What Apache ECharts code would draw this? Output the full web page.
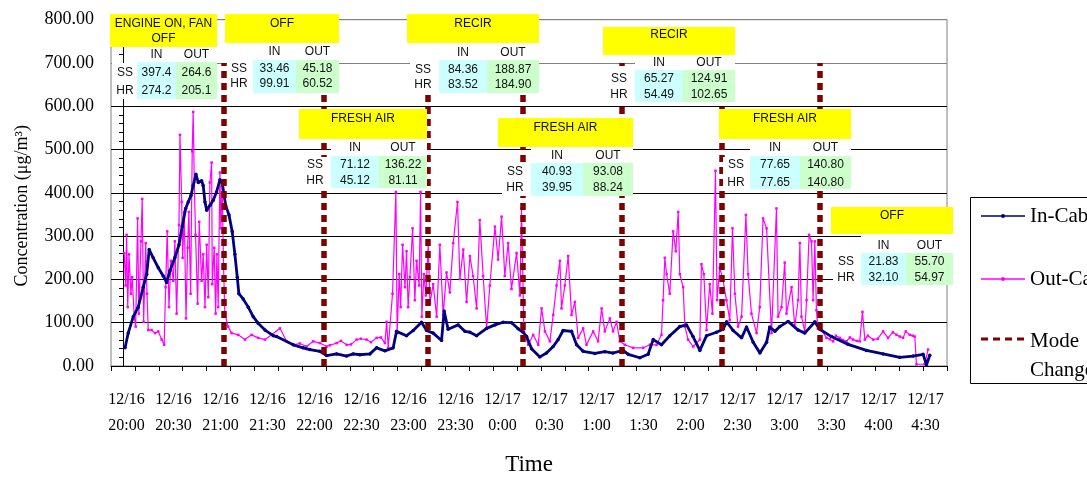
<!DOCTYPE html>
<html><head><meta charset="utf-8">
<script src="https://cdn.jsdelivr.net/npm/echarts/dist/echarts.min.js"></script>
<style>html,body{margin:0;padding:0;background:#fff}#c{width:1087px;height:481px}</style>
</head><body><div id="c"></div>
<script>
// ---------------- DATA ----------------
// time axis: minutes after 12/16 20:00
const timeLabels = ['12/16\n20:00','12/16\n20:30','12/16\n21:00','12/16\n21:30','12/16\n22:00','12/16\n22:30','12/16\n23:00','12/16\n23:30','12/17\n0:00','12/17\n0:30','12/17\n1:00','12/17\n1:30','12/17\n2:00','12/17\n2:30','12/17\n3:00','12/17\n3:30','12/17\n4:00','12/17\n4:30'];
const yTickLabels = ['0.00','100.00','200.00','300.00','400.00','500.00','600.00','700.00','800.00'];
const modeChangeTimes = [63.0, 125.8, 191.7, 251.3, 313.5, 375.9, 437.6];
const modeNames = [['ENGINE ON, FAN','OFF'],['OFF'],['FRESH AIR'],['RECIR'],['FRESH AIR'],['RECIR'],['FRESH AIR'],['OFF']];
const ssIn  = ['397.4','33.46','71.12','84.36','40.93','65.27','77.65','21.83'];
const ssOut = ['264.6','45.18','136.22','188.87','93.08','124.91','140.80','55.70'];
const hrIn  = ['274.2','99.91','45.12','83.52','39.95','54.49','77.65','32.10'];
const hrOut = ['205.1','60.52','81.11','184.90','88.24','102.65','140.80','54.97'];

const inCabin = [[1.3,42],[3.3,76],[6.5,114],[9.6,136],[12.7,182],[14.9,212],[16.5,269],[19.0,250],[22.2,227],[25.3,208],[27.4,193],[29.5,220],[32.6,250],[35.2,280],[37.2,322],[39.4,364],[41.0,379],[42.7,394],[44.1,417],[45.8,443],[47.3,424],[49.4,428],[50.4,417],[51.5,379],[52.6,360],[54.6,371],[56.7,383],[58.8,402],[60.9,430],[62.3,424],[64.5,371],[66.6,349],[68.6,311],[70.3,258],[71.8,205],[72.8,167],[75.5,155],[78.7,136],[81.8,114],[84.9,99],[89.2,83],[94.4,70],[96.5,68],[106.9,49],[113.2,42],[117.4,38],[123.7,34],[127.9,24],[134.2,28],[140.5,23],[144.6,28],[148.8,26],[155.1,28],[159.3,42],[164.5,35],[169.7,42],[171.8,80],[178.1,70],[182.3,82],[187.5,101],[190.7,82],[194.8,76],[200.1,59],[201.7,127],[204.2,85],[210.5,95],[214.7,80],[217.9,78],[222.1,70],[228.4,87],[233.6,95],[238.8,101],[244.1,100],[248.2,86],[251.3,78],[253.5,68],[256.6,40],[261.8,21],[266.0,30],[270.2,45],[273.3,61],[276.4,82],[281.7,80],[284.9,49],[289.0,34],[296.4,29],[302.6,33],[307.8,30],[314.1,36],[317.3,27],[324.6,19],[329.8,27],[333.0,61],[338.2,49],[343.4,70],[349.7,91],[353.9,95],[358.0,68],[362.3,36],[366.5,70],[372.7,78],[376.9,85],[379.1,102],[383.2,82],[388.5,65],[391.6,90],[395.8,55],[400.0,30],[404.2,55],[406.2,90],[409.4,80],[412.5,91],[417.7,103],[424.0,83],[428.2,76],[434.5,102],[437.6,85],[444.9,68],[455.4,50],[466.9,36],[477.4,28],[487.8,20],[496.2,23],[502.5,27],[504.6,3],[506.7,25]];

const outCabin = [[0.8,261],[1.7,186],[2.3,303],[3.0,136],[3.8,258],[5.0,167],[5.8,205],[7.1,114],[8.0,91],[9.2,341],[10.0,121],[11.3,288],[12.1,386],[13.0,102],[14.3,284],[15.1,167],[15.9,83],[18.0,83],[20.1,76],[22.2,80],[24.3,61],[25.9,49],[26.8,182],[27.8,311],[28.9,136],[30.1,243],[31.6,197],[32.6,288],[33.7,121],[35.2,326],[35.8,534],[36.9,379],[37.5,250],[38.5,356],[39.6,110],[40.6,273],[41.4,356],[42.5,167],[43.5,496],[44.1,587],[44.8,424],[45.6,303],[46.9,144],[47.9,333],[49.4,197],[50.4,258],[51.5,136],[52.6,280],[53.6,159],[54.6,424],[55.7,470],[56.1,189],[57.3,273],[58.2,121],[59.0,258],[59.8,136],[60.9,447],[61.5,318],[62.3,417],[63.2,227],[64.0,121],[66.1,91],[68.2,76],[72.4,72],[76.6,61],[80.8,72],[84.9,65],[89.2,61],[93.4,72],[98.6,87],[102.8,57],[106.9,49],[111.1,52],[115.3,45],[119.5,57],[123.7,53],[127.9,45],[130.0,48],[134.2,53],[136.9,58],[140.5,49],[143.2,50],[146.7,61],[149.4,63],[153.0,61],[155.7,55],[159.3,65],[162.0,66],[164.5,53],[165.6,102],[166.6,42],[169.3,167],[171.4,402],[172.2,76],[173.5,212],[174.4,136],[175.6,280],[177.1,182],[178.1,265],[179.1,136],[180.2,205],[181.9,318],[183.3,152],[184.4,243],[186.0,186],[186.9,402],[187.7,114],[189.0,212],[190.2,163],[191.7,280],[192.8,144],[194.8,189],[197.0,114],[199.0,280],[201.1,118],[203.2,216],[205.3,170],[207.4,284],[210.1,379],[211.6,201],[213.7,269],[215.8,148],[217.9,254],[219.9,208],[222.1,133],[224.1,337],[226.2,208],[228.4,87],[230.4,186],[233.6,322],[235.6,246],[237.8,345],[239.8,208],[241.9,284],[244.0,178],[247.2,261],[249.3,163],[250.3,364],[251.8,80],[254.5,49],[257.6,72],[260.8,49],[262.9,133],[265.0,80],[268.1,57],[270.2,118],[272.3,186],[274.4,243],[275.4,133],[277.5,186],[279.6,254],[281.7,118],[283.8,148],[285.9,65],[289.0,87],[291.1,49],[295.3,80],[298.4,57],[300.6,133],[302.6,80],[305.8,110],[307.8,80],[310.0,102],[312.0,57],[315.2,49],[320.4,42],[326.7,42],[330.9,49],[335.1,49],[338.2,72],[339.2,152],[340.3,250],[341.4,212],[343.4,167],[345.5,311],[347.2,265],[348.7,356],[349.7,212],[351.8,182],[352.9,91],[354.9,61],[358.1,45],[362.3,61],[363.3,235],[364.8,212],[366.5,83],[368.5,189],[370.2,121],[372.1,451],[373.1,152],[374.8,227],[376.9,197],[379.0,152],[381.1,106],[382.8,318],[384.3,167],[386.3,91],[388.5,114],[391.2,349],[392.6,212],[394.7,121],[397.9,76],[399.9,136],[402.0,341],[404.2,318],[407.3,76],[410.4,364],[411.4,114],[413.6,136],[415.6,239],[416.7,121],[419.9,182],[421.9,91],[424.0,152],[425.1,284],[426.1,114],[428.2,80],[429.3,152],[430.9,303],[432.4,288],[433.4,152],[434.5,288],[435.5,129],[436.4,87],[438.7,83],[441.8,65],[443.9,62],[446.0,57],[447.7,70],[450.2,65],[452.1,60],[454.4,57],[456.5,66],[458.5,61],[460.8,58],[462.7,57],[464.4,125],[465.9,61],[467.8,70],[471.1,61],[474.0,63],[477.4,80],[480.5,65],[483.5,78],[485.8,72],[487.8,68],[489.9,65],[491.6,80],[494.1,72],[496.0,70],[497.3,68],[498.3,4],[503.5,4],[505.6,38]];

// ---------------- LAYOUT (annotation tables, pixels) ----------------
const tableLayout = [
  {box:[110,217,14,47], titleY:[24,39], lx:125, cx:[137,176,217], cy:[62,99], hy:55, ry:[73,91]},
  {box:[225,339,14,43], titleY:[24], lx:239, cx:[253,296,339], cy:[60,93], hy:52, ry:[69,84]},
  {box:[299,427,109,139], titleY:[118.5], lx:315, cx:[331,379,427], cy:[156,188], hy:148, ry:[165,181]},
  {box:[407,539,14,43], titleY:[23.5], lx:423, cx:[439,487,539], cy:[60,93], hy:53, ry:[69.5,85]},
  {box:[498,633,118,147], titleY:[127.5], lx:515, cx:[531,583,633], cy:[163,196], hy:156, ry:[171.5,188]},
  {box:[603,735,27,55], titleY:[35], lx:619, cx:[635,683,735], cy:[70,102], hy:63, ry:[79,95]},
  {box:[719,851,109,139], titleY:[118.5], lx:736, cx:[750,800,851], cy:[156,189], hy:148, ry:[164.5,182.5]},
  {box:[831,953,207,234], titleY:[216], lx:846, cx:[861,906,953], cy:[253,285], hy:246, ry:[261.5,278]}
];

const SANS = '12px "Liberation Sans", Arial, sans-serif';
const SERIF = '"Liberation Serif", "Times New Roman", serif';
const graphics = [];
function txt(x, y, s, font, align) {
  graphics.push({type:'text', x:x, y:y, z:100, silent:true,
    style:{text:s, font:font || SANS, fill:'#111', align:align || 'center', verticalAlign:'middle'}});
}
function rect(x0, y0, x1, y1, fill) {
  graphics.push({type:'rect', z:99, silent:true, shape:{x:x0, y:y0, width:x1-x0, height:y1-y0}, style:{fill:fill}});
}
tableLayout.forEach((L, i) => {
  const [bx0, bx1, by0, by1] = L.box;
  const [c0, c1, c2] = L.cx;
  rect(c0, by1, c2, L.cy[0], '#ffffff');
  rect(Math.max(bx0 + 2, L.lx - 13), L.cy[0] + 1, c0, L.cy[1], '#ffffff');
  rect(bx0, by0, bx1, by1, '#ffff00');
  rect(c0, L.cy[0], c1, L.cy[1], '#ccffff');
  rect(c1, L.cy[0], c2, L.cy[1], '#ccffcc');
  modeNames[i].forEach((line, k) => txt((bx0 + bx1) / 2, L.titleY[k], line));
  txt((c0 + c1) / 2, L.hy, 'IN');
  txt((c1 + c2) / 2, L.hy, 'OUT');
  txt(L.lx, L.ry[0], 'SS');
  txt(L.lx, L.ry[1], 'HR');
  txt((c0 + c1) / 2, L.ry[0], ssIn[i]);
  txt((c1 + c2) / 2, L.ry[0], ssOut[i]);
  txt((c0 + c1) / 2, L.ry[1], hrIn[i]);
  txt((c1 + c2) / 2, L.ry[1], hrOut[i]);
});

// legend box (graphic, clipped at the canvas edge like the original)
graphics.push({type:'rect', z:100, silent:true, shape:{x:970.5, y:197.5, width:160, height:186}, style:{fill:'#fff', stroke:'#000', lineWidth:1}});
graphics.push({type:'line', z:101, silent:true, shape:{x1:981, y1:216, x2:1025, y2:216}, style:{stroke:'#000080', lineWidth:1.5}});
graphics.push({type:'circle', z:102, silent:true, shape:{cx:1003, cy:216, r:2}, style:{fill:'#000080'}});
graphics.push({type:'line', z:101, silent:true, shape:{x1:981, y1:279, x2:1025, y2:279}, style:{stroke:'#ff00ff', lineWidth:1.5}});
graphics.push({type:'circle', z:102, silent:true, shape:{cx:1003, cy:279, r:2}, style:{fill:'#ff00ff'}});
graphics.push({type:'line', z:101, silent:true, shape:{x1:981, y1:339, x2:1025, y2:339}, style:{stroke:'#800000', lineWidth:3, lineDash:[7,5]}});
const LFONT = '21px ' + SERIF;
[['In-Cabin',216],['Out-Cabin',279],['Mode',341],['Change',370]].forEach(([s,y]) => {
  graphics.push({type:'text', x:1030, y:y, z:102, silent:true, style:{text:s, font:LFONT, fill:'#000', align:'left', verticalAlign:'middle'}});
});

// 35 blank categories: tick marks every 15 min across the plot
const tickCats = Array.from({length:35}, () => '');
const splitColors = yTickLabels.map((_, i) => i >= 7 ? '#808080' : '#000000');
const PLOT = {top:19.7, height:352};

const chart = echarts.init(document.getElementById('c'), null, {renderer:'canvas'});
chart.setOption({
  animation:false,
  backgroundColor:'#ffffff',
  grid:[
    {left:111, top:PLOT.top, width:836, height:PLOT.height, show:true, borderColor:'#808080', borderWidth:1, backgroundColor:'transparent'},
    {left:126.5, top:PLOT.top, width:799, height:PLOT.height, show:false}
  ],
  xAxis:[
    {gridIndex:0, type:'category', data:tickCats, boundaryGap:true, position:'bottom',
     axisLine:{lineStyle:{color:'#000', width:1}},
     axisTick:{show:true, interval:0, length:5, lineStyle:{color:'#000'}},
     axisLabel:{show:false}, splitLine:{show:false},
     name:'Time', nameLocation:'middle', nameGap:87,
     nameTextStyle:{fontFamily:SERIF, fontSize:23, color:'#000'}},
    {gridIndex:0, type:'value', min:-7.5, max:517.5, show:false},
    {gridIndex:1, type:'category', data:timeLabels, boundaryGap:false, position:'bottom',
     axisLine:{show:false}, axisTick:{show:false}, splitLine:{show:false},
     axisLabel:{interval:0, fontFamily:SERIF, fontSize:16, color:'#000', lineHeight:26, margin:15}}
  ],
  yAxis:[
    {gridIndex:0, type:'value', min:0, max:800, interval:100,
     axisLine:{show:true, lineStyle:{color:'#000'}},
     axisTick:{show:true, length:5, lineStyle:{color:'#000'}},
     minorTick:{show:true, splitNumber:5, length:4, lineStyle:{color:'#000'}},
     axisLabel:{formatter:v => yTickLabels[Math.round(v/100)], fontFamily:SERIF, fontSize:18, color:'#000', margin:17},
     splitLine:{show:true, lineStyle:{color:splitColors, width:1}},
     name:'Concentration (μg/m³)', nameLocation:'middle', nameGap:80, nameRotate:90,
     nameTextStyle:{fontFamily:SERIF, fontSize:18, color:'#000', padding:[0,26,0,0]}},
    {gridIndex:1, type:'value', min:0, max:800, show:false}
  ],
  series:[
    {name:'Out-Cabin', type:'line', xAxisIndex:1, yAxisIndex:0, data:outCabin, z:2,
     symbol:'rect', symbolSize:2.5, showSymbol:true, showAllSymbol:true,
     lineStyle:{color:'#ff00ff', width:1.2}, itemStyle:{color:'#ff00ff'}},
    {name:'In-Cabin', type:'line', xAxisIndex:1, yAxisIndex:0, data:inCabin, z:3,
     symbol:'circle', symbolSize:3.5, showSymbol:true, showAllSymbol:true,
     lineStyle:{color:'#000080', width:2.8}, itemStyle:{color:'#000080'}},
    {name:'Mode Change', type:'line', xAxisIndex:1, yAxisIndex:0, data:[], z:5,
     markLine:{silent:true, symbol:['none','none'], label:{show:false}, animation:false,
       lineStyle:{color:'#800000', width:5.5, type:[7,5]},
       data: modeChangeTimes.map(t => [{coord:[t,0]},{coord:[t,700]}])}}
  ],
  graphic:graphics
});
</script>
</body></html>
